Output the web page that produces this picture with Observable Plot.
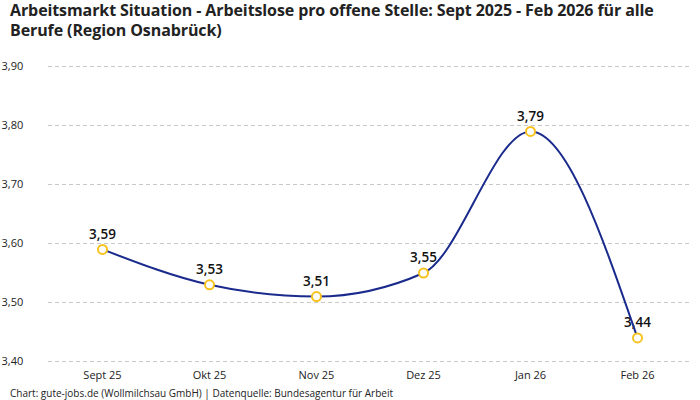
<!DOCTYPE html>
<html><head><meta charset="utf-8">
<script src="https://cdn.jsdelivr.net/npm/d3@7"></script>
<script src="https://cdn.jsdelivr.net/npm/@observablehq/plot@0.6"></script>
<style>
body{margin:0;background:#fff;font-family:"Open Sans",Roboto,sans-serif;}
#wrap{width:700px;height:400px;position:relative;overflow:hidden;}
h1{margin:0;padding:0 10px 0 10px;width:680px;font-size:16px;line-height:20px;font-weight:700;color:#222;height:38px;font-family:"Open Sans",Roboto,sans-serif;letter-spacing:-0.1px;}
#cap{position:absolute;left:10px;top:386px;font-size:10px;color:#222;}
svg{display:block;}
</style></head><body>
<div id="wrap">
<h1>Arbeitsmarkt Situation - Arbeitslose pro offene Stelle: Sept 2025 - Feb 2026 für alle<br>Berufe (Region Osnabrück)</h1>
<div id="chart"></div>
<div id="cap">Chart: gute-jobs.de (Wollmilchsau GmbH) | Datenquelle: Bundesagentur für Arbeit</div>
</div>
<script>
const months = ["Sept 25","Okt 25","Nov 25","Dez 25","Jan 26","Feb 26"];
const values = [3.59,3.53,3.51,3.55,3.79,3.44];
const yTicks = [3.40,3.50,3.60,3.70,3.80,3.90];

const data = months.map((m,i)=>({m, v: values[i]}));
const fmt = v => v.toFixed(2).replace(".", ",");

const plot = Plot.plot({
  width: 700, height: 348,
  marginTop: 28, marginBottom: 25, marginLeft: 48, marginRight: 10,
  style: {fontFamily: "'Open Sans',Roboto,sans-serif", fontSize: "11px", color: "#222"},
  x: {type: "point", domain: months, padding: 0.5, label: null, tickSize: 0, tickPadding: 8},
  y: {domain: [3.40, 3.90], ticks: yTicks, tickFormat: fmt, label: null, tickSize: 0},
  marks: [
    Plot.ruleY(yTicks, {stroke: "#c8c8c8", strokeDasharray: "4,3", strokeWidth: 1}),
    Plot.axisY({ticks: yTicks, tickFormat: fmt, tickSize: 0, textAnchor: "start", dx: -38, label: null, fontSize: 11}),
    Plot.axisX({tickSize: 0, tickPadding: 10, label: null, fontSize: 11}),
    Plot.text(data, {x: "m", y: "v", text: d => fmt(d.v), dy: -15, fontSize: 13.5, fontWeight: 600, fill: "#111"}),
    Plot.line(data, {x: "m", y: "v", curve: "monotone-x", stroke: "#1a2a8c", strokeWidth: 2}),
    Plot.dot(data, {x: "m", y: "v", r: 4.5, stroke: "#f7c21e", strokeWidth: 2, fill: "#fff"})
  ]
});
document.getElementById("chart").appendChild(plot);
</script>
</body></html>
